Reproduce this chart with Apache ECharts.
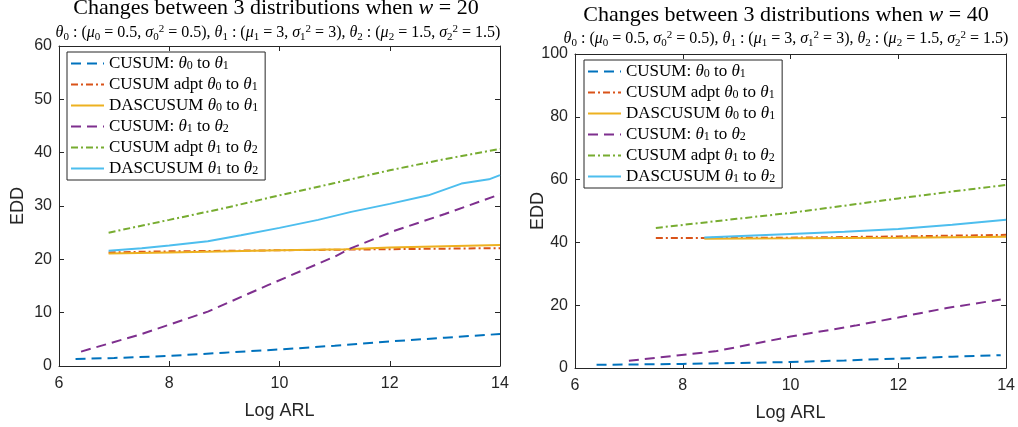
<!DOCTYPE html>
<html><head><meta charset="utf-8">
<script src="https://cdn.jsdelivr.net/npm/echarts@6/dist/echarts.min.js"></script>
<style>html,body{margin:0;padding:0;background:#fff}#c{width:1018px;height:427px}</style>
</head><body><div id="c"></div>
<script>
// ---------- data ----------
const seriesNames = ['CUSUM: θ0 to θ1','CUSUM adpt θ0 to θ1','DASCUSUM θ0 to θ1','CUSUM: θ1 to θ2','CUSUM adpt θ1 to θ2','DASCUSUM θ1 to θ2'];
const xTickVals = [6, 8, 10, 12, 14];

// left panel (w = 20)
const L_cusum01_x = [6.3, 7, 8, 9, 10, 11, 12, 13, 14];
const L_cusum01_y = [1.3, 1.5, 1.9, 2.5, 3.1, 3.8, 4.6, 5.3, 6.0];
const L_adpt01_x = [6.9, 8, 10, 12, 14];
const L_adpt01_y = [21.3, 21.5, 21.7, 21.9, 22.1];
const L_das01_x = [6.9, 8, 10, 11.2, 12, 14];
const L_das01_y = [21.1, 21.3, 21.7, 21.9, 22.2, 22.7];
const L_cusum12_x = [6.4, 7.5, 8.7, 9.8, 11, 11.3, 12.1, 13, 14];
const L_cusum12_y = [2.7, 6.0, 10.2, 15.2, 20.5, 22.1, 25.4, 28.5, 32.2];
const L_adpt12_x = [6.9, 8, 9, 10, 11, 12, 13, 14];
const L_adpt12_y = [25.0, 27.4, 29.6, 32.0, 34.3, 36.7, 38.8, 40.7];
const L_das12_x = [6.9, 7.5, 8, 8.7, 9.3, 10, 10.7, 11.3, 12, 12.7, 13.3, 13.8, 14];
const L_das12_y = [21.6, 22.1, 22.6, 23.4, 24.5, 25.9, 27.4, 28.9, 30.4, 32.0, 34.2, 35.0, 35.8];

// right panel (w = 40)
const R_cusum01_x = [6.4, 8, 9, 10, 11, 12, 13, 13.9];
const R_cusum01_y = [1.0, 1.3, 1.6, 1.9, 2.4, 3.0, 3.6, 4.1];
const R_adpt01_x = [7.5, 10, 12, 14];
const R_adpt01_y = [41.4, 41.5, 41.9, 42.4];
const R_das01_x = [8.4, 10, 12, 14];
const R_das01_y = [41.2, 41.3, 41.5, 41.8];
const R_cusum12_x = [7.0, 8.6, 10, 11.2, 12, 12.9, 13.9];
const R_cusum12_y = [2.3, 5.3, 10.0, 13.5, 16.1, 19.1, 21.8];
const R_adpt12_x = [7.5, 9, 10, 11, 12, 13, 14];
const R_adpt12_y = [44.6, 47.5, 49.4, 51.7, 54.0, 56.2, 58.3];
const R_das12_x = [8.4, 10, 11, 12, 13, 14];
const R_das12_y = [41.6, 42.7, 43.4, 44.3, 45.6, 47.2];

// ---------- styles ----------
const colors = ['#0072BD','#D95319','#EDB120','#7E2F8E','#77AC30','#4DBEEE'];
const dashes = [[10,6],[7,3,2,3],'solid',[10,6],[7,3,2,3],'solid'];
const AX = '#262626';
const SERIF = 'Liberation Serif';
const SANS = 'Liberation Sans';

const pairs = (xs, ys) => xs.map((x, i) => [x, ys[i]]);

const leftData = [
  pairs(L_cusum01_x, L_cusum01_y), pairs(L_adpt01_x, L_adpt01_y), pairs(L_das01_x, L_das01_y),
  pairs(L_cusum12_x, L_cusum12_y), pairs(L_adpt12_x, L_adpt12_y), pairs(L_das12_x, L_das12_y)
];
const rightData = [
  pairs(R_cusum01_x, R_cusum01_y), pairs(R_adpt01_x, R_adpt01_y), pairs(R_das01_x, R_das01_y),
  pairs(R_cusum12_x, R_cusum12_y), pairs(R_adpt12_x, R_adpt12_y), pairs(R_das12_x, R_das12_y)
];

function richFor(size, lhMul) {
  const lh = Math.round(size * (lhMul || 1.2));
  const sub = Math.round(size * 0.68);
  return {
    t: {fontFamily: SERIF, fontSize: size, color: '#000', lineHeight: lh},
    i: {fontFamily: SERIF, fontSize: size, fontStyle: 'italic', color: '#000', lineHeight: lh},
    s: {fontFamily: SERIF, fontSize: sub, color: '#000', lineHeight: sub + 1, verticalAlign: 'bottom'},
    p: {fontFamily: SERIF, fontSize: sub, color: '#000', lineHeight: sub + 1, verticalAlign: 'top'}
  };
}

const legendRich = {
  'CUSUM: θ0 to θ1': '{t|CUSUM: }{i|θ}{s|0}{t| to }{i|θ}{s|1}',
  'CUSUM adpt θ0 to θ1': '{t|CUSUM adpt }{i|θ}{s|0}{t| to }{i|θ}{s|1}',
  'DASCUSUM θ0 to θ1': '{t|DASCUSUM }{i|θ}{s|0}{t| to }{i|θ}{s|1}',
  'CUSUM: θ1 to θ2': '{t|CUSUM: }{i|θ}{s|1}{t| to }{i|θ}{s|2}',
  'CUSUM adpt θ1 to θ2': '{t|CUSUM adpt }{i|θ}{s|1}{t| to }{i|θ}{s|2}',
  'DASCUSUM θ1 to θ2': '{t|DASCUSUM }{i|θ}{s|1}{t| to }{i|θ}{s|2}'
};

const subtitle = '{i|θ}{s|0}{t| : (}{i|μ}{s|0}{t| = 0.5, }{i|σ}{s|0}{p|2}{t| = 0.5), }' +
  '{i|θ}{s|1}{t| : (}{i|μ}{s|1}{t| = 3, }{i|σ}{s|1}{p|2}{t| = 3), }' +
  '{i|θ}{s|2}{t| : (}{i|μ}{s|2}{t| = 1.5, }{i|σ}{s|2}{p|2}{t| = 1.5)}';

function xAx(grid, pos, showLabel) {
  return {
    type: 'value', gridIndex: grid, position: pos, min: 6, max: 14, interval: 2,
    name: showLabel ? 'Log ARL' : '', nameLocation: 'middle', nameGap: 36, nameMoveOverlap: false,
    nameTextStyle: {fontFamily: SANS, fontSize: 18, color: AX},
    axisLine: {show: true, onZero: false, lineStyle: {color: AX, width: 1}},
    axisTick: {show: true, inside: true, length: 5, lineStyle: {color: AX}},
    axisLabel: {show: showLabel, fontFamily: SANS, fontSize: 16, color: AX, margin: 10},
    splitLine: {show: false}
  };
}
function yAx(grid, pos, showLabel, max, interval, gap) {
  return {
    type: 'value', gridIndex: grid, position: pos, min: 0, max: max, interval: interval,
    name: showLabel ? 'EDD' : '', nameLocation: 'middle', nameGap: gap, nameMoveOverlap: false,
    nameTextStyle: {fontFamily: SANS, fontSize: 18, color: AX},
    axisLine: {show: true, onZero: false, lineStyle: {color: AX, width: 1}},
    axisTick: {show: true, inside: true, length: 5, lineStyle: {color: AX}},
    axisLabel: {show: showLabel, fontFamily: SANS, fontSize: 16, color: AX, margin: 7},
    splitLine: {show: false}
  };
}

const series = [];
[leftData, rightData].forEach((set, g) => {
  set.forEach((d, k) => {
    series.push({
      name: seriesNames[k], type: 'line', data: d,
      xAxisIndex: g * 2, yAxisIndex: g * 2,
      symbol: 'none', showSymbol: false, smooth: false,
      lineStyle: {color: colors[k], width: 2, type: dashes[k]},
      itemStyle: {color: colors[k]},
      z: 2 + k
    });
  });
});

function legendAt(left, top) {
  return {
    data: seriesNames, orient: 'vertical', left: left, top: top,
    selectedMode: false,
    backgroundColor: '#fff', borderColor: AX, borderWidth: 1,
    padding: [3, 7, 3, 3], itemGap: 4, itemWidth: 33, itemHeight: 16,
    itemStyle: {color: 'rgba(0,0,0,0)', borderWidth: 0, opacity: 0},
    formatter: n => legendRich[n],
    textStyle: {fontFamily: SERIF, fontSize: 17, color: '#000', rich: richFor(17, 1.0)}
  };
}

const chart = echarts.init(document.getElementById('c'), null, {renderer: 'canvas'});
chart.setOption({
  animation: false,
  backgroundColor: '#fff',
  grid: [
    {left: 59, top: 46, width: 441, height: 320},
    {left: 575, top: 54, width: 435, height: 314}
  ],
  xAxis: [xAx(0, 'bottom', true), xAx(0, 'top', false), xAx(1, 'bottom', true), xAx(1, 'top', false)],
  yAxis: [yAx(0, 'left', true, 60, 10, 32), yAx(0, 'right', false, 60, 10, 30),
          yAx(1, 'left', true, 100, 20, 28), yAx(1, 'right', false, 100, 20, 30)],
  legend: [legendAt(67, 52), legendAt(584, 60)],
  graphic: [
    {type: 'text', x: 276, y: 8, style: {text: '{t|Changes between 3 distributions when }{i|w}{t| = 20}', rich: richFor(22), align: 'center', verticalAlign: 'middle'}},
    {type: 'text', x: 278, y: 33, style: {text: subtitle, rich: richFor(16), align: 'center', verticalAlign: 'middle'}},
    {type: 'text', x: 786, y: 15, style: {text: '{t|Changes between 3 distributions when }{i|w}{t| = 40}', rich: richFor(22), align: 'center', verticalAlign: 'middle'}},
    {type: 'text', x: 786, y: 39, style: {text: subtitle, rich: richFor(16), align: 'center', verticalAlign: 'middle'}}
  ],
  series: series
});
</script>
</body></html>
